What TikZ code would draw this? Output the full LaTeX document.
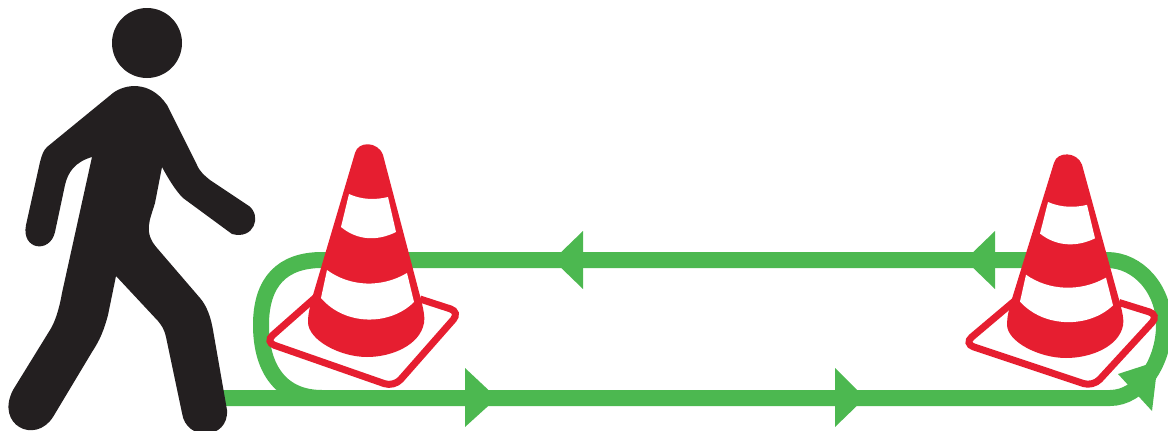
\documentclass[tikz,border=0pt]{standalone}
\usepackage{xcolor}
\definecolor{walkerblack}{RGB}{35,31,32}
\definecolor{conered}{RGB}{230,30,48}
\definecolor{routegreen}{RGB}{76,184,80}
\tikzset{
  route/.style={draw=routegreen,line width=16pt},
  routehead/.style={fill=routegreen},
  conebase/.style={draw=conered,fill=white,line width=7pt,rounded corners=10pt}
}
\newcommand{\trafficcone}{
  \draw[conebase] (316,297) -- (265,342) -- (394,387) -- (460,312) -- (420,299);
  \fill[conered] (355,153) .. controls (358,141) and (378,141) .. (383,155)
    -- (419,292) .. controls (424,310) and (425,318) .. (424,323)
    .. controls (420,345) and (392,357) .. (367,357)
    .. controls (340,357) and (308,340) .. (308,322)
    .. controls (308,314) and (310,306) .. (313,295) -- cycle;
  \fill[white] (349,194) .. controls (362,200) and (376,200) .. (388,197)
    -- (396,232) .. controls (378,241) and (358,241) .. (341,227) -- cycle;
  \fill[white] (327,270) .. controls (350,287) and (382,288) .. (407,273)
    -- (414,302) .. controls (390,326) and (345,326) .. (321,298) -- cycle;
}
\begin{document}
\begin{tikzpicture}[x=1pt,y=-1pt]
  \useasboundingbox (0,0) rectangle (1168,431);
  \clip (0,0) rectangle (1168,431);
  % green loop
  \draw[route] (220,398) -- (1110,398)
    .. controls (1140,398) and (1164,363) .. (1164,325)
    .. controls (1164,289) and (1138,260) .. (1107,260) -- (322,260)
    .. controls (282,260) and (261,282) .. (261,325)
    .. controls (261,370) and (282,398) .. (322,398) -- (400,398);
  \fill[routehead] (465,368) -- (497,398) -- (465,427) -- cycle;
  \fill[routehead] (835,368) -- (865,398) -- (835,427) -- cycle;
  \fill[routehead] (583,231) -- (553,260) -- (583,289) -- cycle;
  \fill[routehead] (995,231) -- (965,260) -- (995,289) -- cycle;
  % cones
  \trafficcone
  \begin{scope}[shift={(699,358)},yscale=.957,shift={(0,-357)}]
    \trafficcone
  \end{scope}
  \fill[routehead] (1118,374) -- (1158,361) -- (1152,411) -- cycle;
  % walker
  \fill[walkerblack] (147,43) circle[radius=35];
  \fill[walkerblack] (47,147) -- (113,93)
    .. controls (125,84) and (150,80) .. (167,105) -- (197,165)
    .. controls (200,172) and (205,176) .. (210,180) -- (249,206)
    .. controls (262,216) and (254,240) .. (232,234) -- (183,198)
    .. controls (175,190) and (168,178) .. (162,167) -- (155,203)
    .. controls (150,220) and (143,232) .. (157,248) -- (200,298)
    .. controls (207,306) and (211,318) .. (213,330) -- (227,410)
    .. controls (229,440) and (186,442) .. (182,413) -- (166,337)
    .. controls (164,328) and (161,325) .. (158,321) -- (116,276) -- (108,315)
    .. controls (104,330) and (100,340) .. (92,352) -- (53,417)
    .. controls (35,445) and (-5,425) .. (13,390) -- (50,330)
    .. controls (55,322) and (59,310) .. (62,293) -- (92,157)
    .. controls (75,162) and (68,172) .. (65,185) -- (55,232)
    .. controls (50,254) and (21,250) .. (26,225) -- (40,162)
    .. controls (42,155) and (43,151) .. (47,147) -- cycle;
\end{tikzpicture}
\end{document}
